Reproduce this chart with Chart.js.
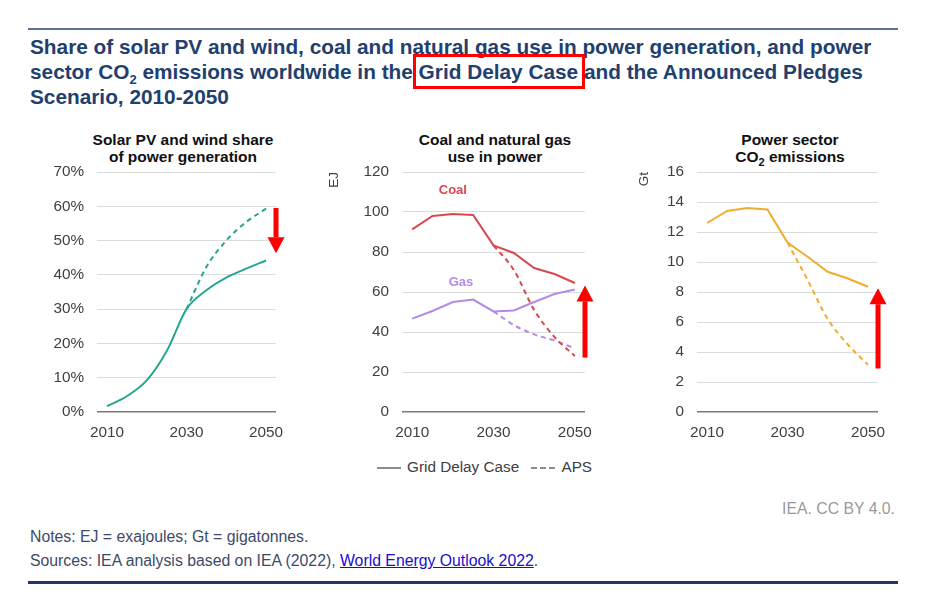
<!DOCTYPE html>
<html>
<head>
<meta charset="utf-8">
<script src="https://cdn.jsdelivr.net/npm/chart.js@4.4.1/dist/chart.umd.min.js"></script>
<style>
  body { margin: 0; width: 945px; height: 607px; background: #fff; font-family: "Liberation Sans", Arial, sans-serif; position: relative; overflow: hidden; }
  .abs { position: absolute; }
  .rule-top { left: 28px; top: 28px; width: 870px; height: 2px; background: #5b7398; }
  .rule-bot { left: 28px; top: 581px; width: 870px; height: 3px; background: #1f3864; }
  .title { left: 30px; top: 34px; width: 900px; font-size: 20.8px; font-weight: bold; line-height: 25px; color: #22406e; white-space: nowrap; }
  .hl { position: relative; }
  .hl::after { content: ""; position: absolute; left: -6px; right: -7px; top: -6px; bottom: -6px; border: 3px solid #f00; }
  .ptitle { font-size: 15.5px; font-weight: bold; line-height: 17px; color: #111; text-align: center; width: 260px; }
  .box { position: absolute; }
  .legend { top: 458px; left: 377px; font-size: 15.3px; color: #404040; white-space: nowrap; }
  .legend span.ln { display: inline-block; width: 24px; vertical-align: middle; margin-right: 6px; }
  .foot { font-size: 15.8px; color: #3c4a68; white-space: nowrap; }
</style>
</head>
<body>
<div class="abs rule-top"></div>
<div class="abs title">Share of solar PV and wind, coal and natural gas use in power generation, and power<br>sector CO<sub style="font-size:13px;line-height:0">2</sub> emissions worldwide in the <span class="hl">Grid Delay Case</span> and the Announced Pledges<br>Scenario, 2010-2050</div>

<div class="abs ptitle" style="left:53px; top:131px;">Solar PV and wind share<br>of power generation</div>
<div class="abs ptitle" style="left:365px; top:131px;">Coal and natural gas<br>use in power</div>
<div class="abs ptitle" style="left:660px; top:131px;">Power sector<br>CO<sub style="font-size:11px;line-height:0">2</sub> emissions</div>

<div class="box" style="left:30px; top:160px; width:262px; height:288px;"><canvas id="chart-solar"></canvas></div>
<div class="box" style="left:322px; top:160px; width:278px; height:288px;"><canvas id="chart-fuel"></canvas></div>
<div class="box" style="left:632px; top:160px; width:262px; height:288px;"><canvas id="chart-co2"></canvas></div>

<div class="abs legend">
  <span class="ln" style="border-top:2px solid #8c8c8c;"></span>Grid Delay Case
  <span class="ln" style="border-top:2px dashed #8c8c8c; margin-left:8px;"></span>APS
</div>

<div class="abs foot" style="right:50px; top:500px; color:#9a9a9a;">IEA. CC BY 4.0.</div>
<div class="abs foot" style="left:30px; top:528px;">Notes: EJ = exajoules; Gt = gigatonnes.</div>
<div class="abs foot" style="left:30px; top:552px;">Sources: IEA analysis based on IEA (2022), <a href="#" style="color:#1a0dcc;">World Energy Outlook 2022</a>.</div>
<div class="abs rule-bot"></div>

<script>
const years = [2010, 2015, 2020, 2025, 2030, 2035, 2040, 2045, 2050];
const xTicks = [2010, 2030, 2050];

// solar PV and wind share, %
const solarGdc = [1.7, 4.6, 9.2, 17.7, 30, 35.5, 39.2, 41.8, 44.2];
const solarAps = [null, null, null, null, 30, 42.3, 50, 55.4, 59.3];

// coal and gas use in power, EJ
const coalGdc = [91.3, 98, 99, 98.5, 83.3, 79.5, 72, 69, 64.5];
const coalAps = [null, null, null, null, 83.3, 71, 51, 37.5, 28];
const gasGdc = [46.7, 50.5, 55, 56.2, 50.3, 50.8, 55, 59, 61.2];
const gasAps = [null, null, null, null, 50.3, 43.5, 38.8, 35.7, 31.8];

// power sector CO2 emissions, Gt
const co2Gdc = [12.6, 13.4, 13.6, 13.5, 11.3, 10.35, 9.35, 8.9, 8.35];
const co2Aps = [null, null, null, null, 11.3, 8.8, 6.2, 4.5, 3.15];

// red arrows (from value, to value)
const solarArrow = [59.5, 46.3];
const fuelArrow = [27.2, 63.3];
const co2Arrow = [2.9, 8.25];

const teal = "#27a593";
const red = "#d8494e";
const purple = "#b48ae6";
const gold = "#efac30";

function pts(arr) {
    return years.map((yr, i) => ({ x: yr, y: arr[i] })).filter(p => p.y !== null);
}

function line(arr, color, dashed, smooth) {
    return {
        data: pts(arr),
        borderColor: color,
        backgroundColor: color,
        borderWidth: 2,
        borderDash: dashed ? [5, 4] : [],
        pointRadius: 0,
        cubicInterpolationMode: smooth ? "monotone" : "default",
        tension: 0,
    };
}

const overlay = {
    id: "overlay",
    afterDraw(chart, args, opts) {
        const ctx = chart.ctx;
        const ys = chart.scales.y, xs = chart.scales.x;
        if (opts.arrow) {
            const x = chart.chartArea.right;
            const y1 = ys.getPixelForValue(opts.arrow[0]);
            const y2 = ys.getPixelForValue(opts.arrow[1]);
            const dir = y2 > y1 ? 1 : -1;
            const head = 16;
            ctx.save();
            ctx.fillStyle = "#ff0000";
            ctx.fillRect(x - 2.5, Math.min(y1, y2 - dir * head), 5, Math.abs(y2 - dir * head - y1));
            ctx.beginPath();
            ctx.moveTo(x - 8.5, y2 - dir * head);
            ctx.lineTo(x + 8.5, y2 - dir * head);
            ctx.lineTo(x, y2);
            ctx.closePath();
            ctx.fill();
            ctx.restore();
        }
        (opts.labels || []).forEach(l => {
            ctx.save();
            ctx.font = "bold 13px 'Liberation Sans', Arial, sans-serif";
            ctx.fillStyle = l.color;
            ctx.textAlign = "center";
            ctx.textBaseline = "middle";
            ctx.fillText(l.text, xs.getPixelForValue(l.x), ys.getPixelForValue(l.y));
            ctx.restore();
        });
    }
};

function makeChart(id, datasets, yMax, yStep, yFmt, yTitle, axisW, padRight, extra) {
    return new Chart(document.getElementById(id), {
        type: "line",
        data: { datasets: datasets },
        options: {
            responsive: true,
            maintainAspectRatio: false,
            animation: false,
            layout: { padding: { top: 12, right: padRight, left: 0, bottom: 0 } },
            plugins: { legend: { display: false }, tooltip: { enabled: false }, overlay: extra },
            scales: {
                x: {
                    type: "linear",
                    min: 2007.5,
                    max: 2052.5,
                    afterBuildTicks: s => { s.ticks = xTicks.map(v => ({ value: v })); },
                    afterFit: s => { s.height = 36; s.paddingLeft = 0; s.paddingRight = 0; },
                    grid: { display: false, drawTicks: false },
                    border: { display: false },
                    ticks: { padding: 12, color: "#404040", font: { size: 15.3, family: "'Liberation Sans', Arial" }, callback: v => String(v) },
                },
                y: {
                    min: 0,
                    max: yMax,
                    afterFit: s => { s.width = axisW; s.paddingTop = 0; s.paddingBottom = 0; },
                    grid: {
                        drawTicks: false,
                        color: c => c.tick.value === 0 ? "#7a7a7a" : "#dcdcdc",
                        lineWidth: c => c.tick.value === 0 ? 1.5 : 1,
                    },
                    border: { display: false },
                    title: yTitle ? { display: true, text: yTitle, align: "end", color: "#404040", font: { size: 13.5, family: "'Liberation Sans', Arial" } } : { display: false },
                    ticks: { stepSize: yStep, padding: 13, color: "#404040", font: { size: 15.3, family: "'Liberation Sans', Arial" }, callback: yFmt },
                },
            },
        },
        plugins: [overlay],
    });
}

makeChart("chart-solar",
    [line(solarAps, teal, true, true), line(solarGdc, teal, false, true)],
    70, 10, v => v + "%", null, 67, 16,
    { arrow: solarArrow });

makeChart("chart-fuel",
    [line(coalAps, red, true, true), line(gasAps, purple, true, true), line(coalGdc, red, false, false), line(gasGdc, purple, false, false)],
    120, 20, v => v, "EJ", 80, 15,
    { arrow: fuelArrow, labels: [{ text: "Coal", x: 2020, y: 111, color: red }, { text: "Gas", x: 2022, y: 65, color: purple }] });

makeChart("chart-co2",
    [line(co2Aps, gold, true, true), line(co2Gdc, gold, false, false)],
    16, 2, v => v, "Gt", 65, 16,
    { arrow: co2Arrow });
</script>
</body>
</html>
